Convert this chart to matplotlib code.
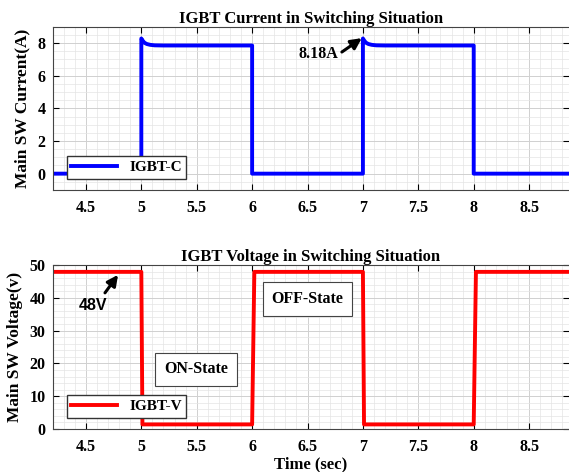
import matplotlib
matplotlib.use('Agg')
import matplotlib.pyplot as plt
from matplotlib.ticker import MultipleLocator

plt.rcParams.update({
    'font.family': 'Liberation Serif',
    'font.weight': 'bold',
    'axes.labelweight': 'bold',
    'axes.titleweight': 'bold',
})

# IGBT current (A) - two switching periods with turn-on overshoot
t_cur = [4.2, 5.0, 5.0, 5.01, 5.02, 5.03, 5.05, 5.08, 5.12, 5.2, 6.0, 6.0,
         7.0, 7.0, 7.01, 7.02, 7.03, 7.05, 7.08, 7.12, 7.2, 8.0, 8.0, 8.86]
i_cur = [0.0, 0.0, 8.28, 8.17, 8.08, 8.01, 7.94, 7.89, 7.86, 7.85, 7.85, 0.0,
         0.0, 8.28, 8.17, 8.08, 8.01, 7.94, 7.89, 7.86, 7.85, 7.85, 0.0, 0.0]

# IGBT voltage (V)
t_vol = [4.2, 5.0, 5.01, 6.0, 6.02, 7.0, 7.01, 8.0, 8.02, 8.86]
v_vol = [47.9, 47.9, 1.4, 1.4, 47.9, 47.9, 1.4, 1.4, 47.9, 47.9]

xlim = (4.2, 8.86)
xticks = [4.5, 5, 5.5, 6, 6.5, 7, 7.5, 8, 8.5]
xticklabels = ['4.5', '5', '5.5', '6', '6.5', '7', '7.5', '8', '8.5']

fig = plt.figure(figsize=(5.69, 4.72), dpi=100)
ax1 = fig.add_axes([0.0926, 0.5975, 0.9074, 0.3459])
ax2 = fig.add_axes([0.0926, 0.0911, 0.9074, 0.3475])


def style(ax, ymajor, yminor):
    ax.set_xlim(*xlim)
    ax.set_xticks(xticks)
    ax.set_xticklabels(xticklabels)
    ax.xaxis.set_minor_locator(MultipleLocator(0.1))
    ax.yaxis.set_major_locator(MultipleLocator(ymajor))
    ax.yaxis.set_minor_locator(MultipleLocator(yminor))
    ax.grid(which='major', color='#d0d0d0', lw=0.7)
    ax.grid(which='minor', color='#e4e4e4', lw=0.5)
    ax.set_axisbelow(True)
    ax.tick_params(which='both', direction='in', top=True, right=True,
                   labelsize=11.5)
    ax.tick_params(axis='x', pad=7)
    ax.tick_params(axis='y', pad=5)
    ax.tick_params(which='minor', length=0)
    ax.tick_params(which='major', length=4, width=0.8)
    ax.spines['right'].set_visible(False)
    for s in ['left', 'top', 'bottom']:
        ax.spines[s].set_color('#444444')
        ax.spines[s].set_linewidth(0.8)


legend_kw = dict(loc='lower left', bbox_to_anchor=(0.027, 0.067),
                 borderaxespad=0, fontsize=11, frameon=True, fancybox=False,
                 edgecolor='#333333', framealpha=1, handlelength=3.0,
                 borderpad=0.3)
arrow_kw = dict(arrowstyle='-|>', color='black', lw=2.2, shrinkA=0,
                shrinkB=0, mutation_scale=16)

# top panel
ax1.plot(t_cur, i_cur, color='#0000ff', lw=2.8, label='IGBT-C')
style(ax1, 2, 0.5)
ax1.set_ylim(-1, 9)
ax1.set_title('IGBT Current in Switching Situation', fontsize=12, pad=3)
ax1.set_ylabel('Main SW Current(A)', fontsize=12.5, labelpad=5)
ax1.legend(**legend_kw)
ax1.text(6.595, 7.3, '8.18A', fontsize=11.5, ha='center', va='center')
ax1.annotate('', xy=(6.99, 8.3), xytext=(6.81, 7.45), arrowprops=arrow_kw)

# bottom panel
ax2.plot(t_vol, v_vol, color='#ff0000', lw=2.8, label='IGBT-V')
style(ax2, 10, 2)
ax2.set_ylim(0, 50)
ax2.set_title('IGBT Voltage in Switching Situation', fontsize=12, pad=3)
ax2.set_ylabel('Main SW Voltage(v)', fontsize=12.5, labelpad=5)
ax2.set_xlabel('Time (sec)', fontsize=12, labelpad=1)
ax2.legend(**legend_kw)
ax2.text(4.564, 37.7, '48V', fontsize=11.5, fontweight='bold',
         family='Liberation Sans', ha='center', va='center')
ax2.annotate('', xy=(4.79, 47.0), xytext=(4.672, 41.5), arrowprops=arrow_kw)
box = dict(boxstyle='square,pad=0.55', facecolor='white',
           edgecolor='#444444', lw=0.8)
ax2.text(6.50, 39.7, 'OFF-State', fontsize=11.5, ha='center', va='center',
         bbox=box)
ax2.text(5.495, 18.2, 'ON-State', fontsize=11.5, ha='center', va='center',
         bbox=box)

fig.savefig('out.png', dpi=100, facecolor='white')
print('Saved: out.png')
plt.close()
